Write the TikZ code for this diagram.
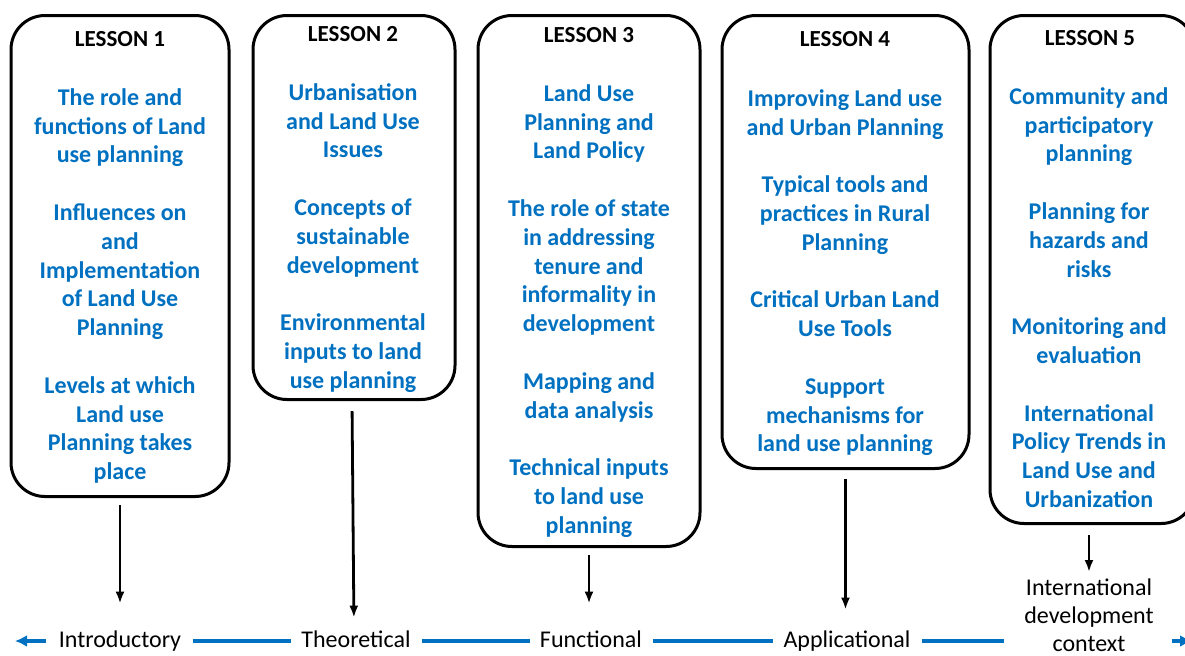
\documentclass[tikz,border=0pt]{standalone}
\usepackage{fontspec}
\setmainfont{Carlito}
\usetikzlibrary{arrows.meta}
\definecolor{lessonblue}{HTML}{0070C0}

\begin{document}
\begin{tikzpicture}[x=0.5pt, y=-0.5pt,
    lesson/.style={draw, line width=1.5pt, rounded corners=17pt, anchor=north, inner sep=0},
    lessontitle/.style={font=\fontsize{11.5}{14}\selectfont\bfseries, anchor=base},
    topics/.style={font=\fontsize{12}{14.4}\selectfont\bfseries, text=lessonblue, align=center, anchor=north, inner sep=0},
    stage/.style={font=\fontsize{12}{14}\selectfont, inner sep=0, text height=8.5pt, text depth=2.5pt},
    drop/.style={-{Latex[length=6pt,width=4.5pt]}, line width=1.4pt},
    bluelink/.style={line width=2pt, color=lessonblue, shorten <=5.5pt, shorten >=5pt}]
    \useasboundingbox (0,0) rectangle (1185,655);

    % lesson boxes
    \node [lesson, minimum width=109pt, minimum height=240.5pt] (box1) at (120,14) {};
    \node [lesson, minimum width=101pt, minimum height=192pt] (box2) at (354,14) {};
    \node [lesson, minimum width=111pt, minimum height=265.5pt] (box3) at (589,14) {};
    \node [lesson, minimum width=123.5pt, minimum height=226.5pt] (box4) at (845.5,14) {};
    \node [lesson, minimum width=102.5pt, minimum height=254pt] (box5) at (1092.5,14) {};

    \node [lessontitle] (title1) at (120,46.5) {LESSON 1};
    \node [lessontitle] (title2) at (353,41) {LESSON 2};
    \node [lessontitle] (title3) at (589,42.5) {LESSON 3};
    \node [lessontitle] (title4) at (845,46.5) {LESSON 4};
    \node [lessontitle] (title5) at (1090,45) {LESSON 5};

    \node [topics] (topics1) at (120,88) {The role and\\functions of Land\\use planning\\[14.4pt]Influences on\\and\\Implementation\\of Land Use\\Planning\\[14.4pt]Levels at which\\Land use\\Planning takes\\place};
    \node [topics] (topics2) at (353,83) {Urbanisation\\and Land Use\\Issues\\[14.4pt]Concepts of\\sustainable\\development\\[14.4pt]Environmental\\inputs to land\\use planning};
    \node [topics] (topics3) at (589,84) {Land Use\\Planning and\\Land Policy\\[14.4pt]The role of state\\in addressing\\tenure and\\informality in\\development\\[14.4pt]Mapping and\\data analysis\\[14.4pt]Technical inputs\\to land use\\planning};
    \node [topics] (topics4) at (845,89) {Improving Land use\\and Urban Planning\\[14.4pt]Typical tools and\\practices in Rural\\Planning\\[14.4pt]Critical Urban Land\\Use Tools\\[14.4pt]Support\\mechanisms for\\land use planning};
    \node [topics] (topics5) at (1089,87) {Community and\\participatory\\planning\\[14.4pt]Planning for\\hazards and\\risks\\[14.4pt]Monitoring and\\evaluation\\[14.4pt]International\\Policy Trends in\\Land Use and\\Urbanization};

    % stages along the bottom
    \node [stage] (intro) at (120,641) {Introductory};
    \node [stage] (theor) at (356,641) {Theoretical};
    \node [stage] (func) at (591,641) {Functional};
    \node [stage] (appl) at (847,641) {Applicational};
    \node [font=\fontsize{12}{14}\selectfont, align=center, anchor=north, inner sep=0] (intl) at (1089,578) {International\\development\\context};

    \draw [drop, shorten <=3.5pt, shorten >=13pt] (box1.south) -- (box1.south |- intro.north);
    \draw [drop, shorten <=5pt, shorten >=6pt] (box2.south -| theor.north) ++(-4,0) -- (box2.south |- theor.north);
    \draw [drop, shorten <=3.5pt, shorten >=13pt] (box3.south) -- (box3.south |- func.north);
    \draw [drop, shorten <=4.5pt, shorten >=10pt] (box4.south) -- (box4.south |- appl.north);
    \draw [drop, shorten <=5pt, shorten >=3pt] (box5.south -| intl.north) -- (intl.north);

    \coordinate (lend) at (15,641);
    \coordinate (rend) at (1192,641);
    \draw [bluelink, -{Latex[length=6pt,width=6pt]}, shorten <=6pt, shorten >=0pt] (intro.west) -- (lend);
    \draw [bluelink] (intro) -- (theor);
    \draw [bluelink] (theor) -- (func);
    \draw [bluelink] (func) -- (appl);
    \draw [bluelink, shorten >=10pt] (appl) -- (appl -| intl.west);
    \draw [bluelink, -{Latex[length=6pt,width=6pt]}, shorten <=9pt, shorten >=0pt] (appl -| intl.east) -- (rend);
\end{tikzpicture}
\end{document}
